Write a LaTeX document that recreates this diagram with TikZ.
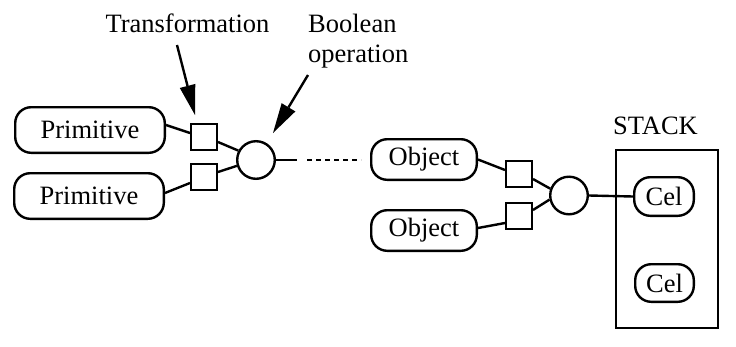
\documentclass[tikz,border=0pt]{standalone}
\usepackage{fontspec}
\setmainfont{Liberation Serif}
\usetikzlibrary{calc}
\begin{document}
\begin{tikzpicture}[x=1pt,y=-1pt,line width=2.4pt,
  txt/.style={font=\fontsize{26.5}{30}\selectfont},
  pill/.style={txt,draw,rounded corners=16pt,inner sep=0pt},
  sq/.style={draw,minimum size=25.6pt,inner sep=0pt},
  op/.style={draw,circle,minimum size=37.6pt,inner sep=0pt},
  lbl/.style={txt,inner sep=0pt},
  headfill/.style={fill=black,draw=none},
  dots/.style={dash pattern=on 5pt off 4pt}]
\useasboundingbox (0,0) rectangle (736,346);
% left group
\node[pill,minimum width=149.6pt,minimum height=45.6pt] (p1) at (90,130) {Primitive};
\node[pill,minimum width=149.6pt,minimum height=45.6pt] (p2) at (89,196) {Primitive};
\node[sq] (s1) at (204,137) {};
\node[sq] (s2) at (204,177) {};
\node[op] (c1) at (256,160) {};
\draw ([yshift=5pt]p1.east) -- ([yshift=4pt]s1.west);
\draw ([yshift=3pt]p2.east) -- ([yshift=-6pt]s2.west);
\draw ([yshift=-5pt]s1.east) -- (c1.152);
\draw ([yshift=5pt]s2.east) -- (c1.197);
% continuation
\coordinate (d1) at (297,160);
\coordinate (d2) at (307,160);
\coordinate (d3) at (361,160);
\draw (c1.east) -- (d1);
\draw[dots] (d2) -- (d3);
% labels and callouts
\node[lbl,anchor=base] (tl) at (187.5,32) {Transformation};
\node[lbl,anchor=base west,align=left] (bl) at (307,62) {Boolean\\operation};
\coordinate (ta) at (177,45);
\coordinate (tt) at (195,115);
\coordinate (ba) at (308,75);
\coordinate (bt) at (273,133);
\coordinate (tb) at ($(tt)!30pt!(ta)$);
\coordinate (bb) at ($(bt)!30pt!(ba)$);
\draw (ta) -- (tb);
\fill[headfill] (tt) -- ($(tb)!8pt!90:(tt)$) -- ($(tb)!8pt!-90:(tt)$) -- cycle;
\draw (ba) -- (bb);
\fill[headfill] (bt) -- ($(bb)!8pt!90:(bt)$) -- ($(bb)!8pt!-90:(bt)$) -- cycle;
% right group
\node[pill,minimum width=105.6pt,minimum height=40.6pt] (o1) at (424,159.5) {Object};
\node[pill,minimum width=105.6pt,minimum height=40.6pt] (o2) at (424,230.5) {Object};
\node[sq] (s3) at (519,174) {};
\node[sq] (s4) at (519,216) {};
\node[op] (c2) at (569,195.5) {};
\draw (o1.east) -- ([yshift=4pt]s3.west);
\draw ([yshift=2.5pt]o2.east) -- ([yshift=-7pt]s4.west);
\draw ([yshift=-5pt]s3.east) -- (c2.160);
\draw ([yshift=6pt]s4.east) -- (c2.192);
% stack
\node[draw,minimum width=101.6pt,minimum height=177.6pt,inner sep=0pt] (stack) at (667,239) {};
\node[lbl,anchor=base] (st) at (655.5,134) {STACK};
\node[pill,minimum width=59.6pt,minimum height=38.6pt] (cel1) at (664,196.5) {Cel};
\node[pill,minimum width=58.6pt,minimum height=37.6pt] (cel2) at (664.5,283) {Cel};
\draw (c2.east) -- (cel1.west);
\end{tikzpicture}
\end{document}
